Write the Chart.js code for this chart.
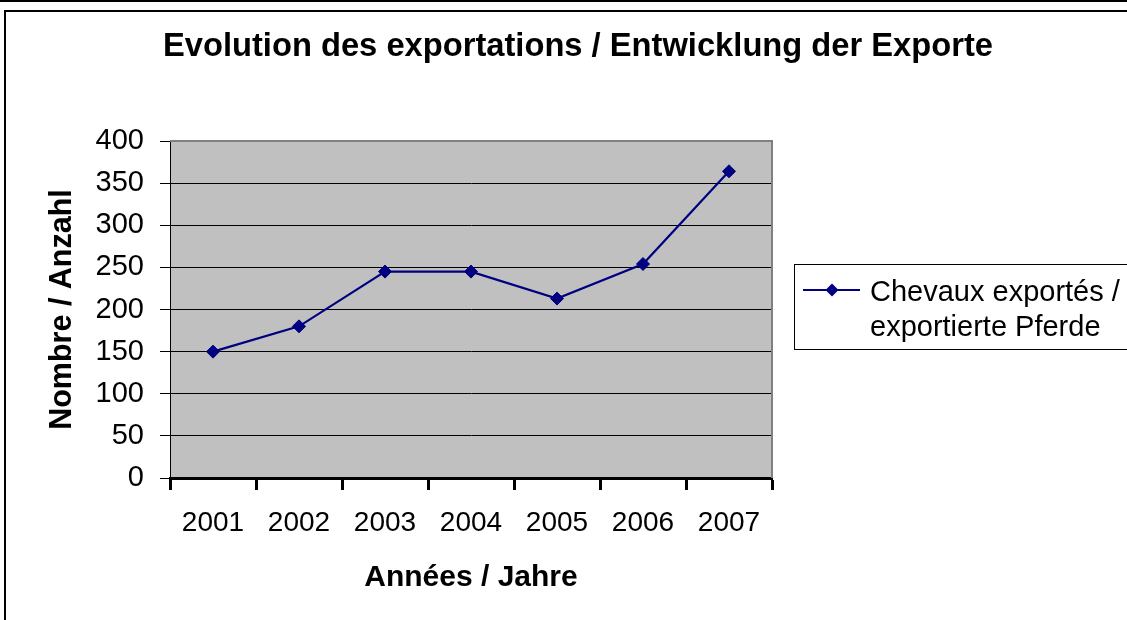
<!DOCTYPE html>
<html lang="fr">
<head>
    <meta charset="UTF-8">
    <title>Evolution des exportations / Entwicklung der Exporte</title>
    <script src="https://cdn.jsdelivr.net/npm/chart.js"></script>
    <style>
        body { margin: 0; background: #fff; }
        #exportChart { display: block; }
    </style>
</head>
<body>
    <canvas id="exportChart" width="1127" height="620"></canvas>

    <script>
        // data
        var years = ["2001", "2002", "2003", "2004", "2005", "2006", "2007"];
        var horses = [150, 180, 245, 245, 213, 254, 364];
        var yTicks = [0, 50, 100, 150, 200, 250, 300, 350, 400];

        var chartTitle = "Evolution des exportations / Entwicklung der Exporte";
        var seriesLabel = ["Chevaux exportés /", "exportierte Pferde"];
        var xTitle = "Années / Jahre";
        var yTitle = "Nombre / Anzahl";

        var font = "'Liberation Sans', Arial, sans-serif";

        // frame, grey plot area, title and legend box (like the excel sheet)
        var decor = {
            id: "decor",
            beforeDraw: function(chart) {
                var c = chart.ctx, a = chart.chartArea;
                c.save();
                c.fillStyle = "#fff";
                c.fillRect(0, 0, chart.width, chart.height);
                c.strokeStyle = "#000";
                c.lineWidth = 2;
                c.beginPath();
                c.moveTo(0, 1); c.lineTo(chart.width, 1);
                c.moveTo(5, chart.height + 5); c.lineTo(5, 11); c.lineTo(chart.width + 5, 11);
                c.stroke();
                c.fillStyle = "#c0c0c0";
                c.fillRect(a.left, a.top, a.right - a.left, a.bottom - a.top);
                c.restore();
            },
            afterDatasetsDraw: function(chart) {
                var c = chart.ctx, a = chart.chartArea;
                c.save();
                c.strokeStyle = "#808080";
                c.lineWidth = 2;
                c.beginPath();
                c.moveTo(a.left, a.top); c.lineTo(a.right, a.top); c.lineTo(a.right, a.bottom);
                c.stroke();
                c.restore();
            },
            afterDraw: function(chart) {
                var c = chart.ctx;
                var ds = chart.data.datasets[0];
                c.save();
                c.fillStyle = "#000";
                c.textAlign = "center";
                c.font = "bold 32.7px " + font;
                c.fillText(chartTitle, 578, 56);

                // legend
                c.strokeStyle = "#000";
                c.lineWidth = 1;
                c.strokeRect(794.5, 264.5, 400, 85);
                c.strokeStyle = ds.borderColor;
                c.lineWidth = 2;
                c.beginPath();
                c.moveTo(803, 290); c.lineTo(860, 290);
                c.stroke();
                c.fillStyle = ds.pointBackgroundColor;
                c.beginPath();
                c.moveTo(832, 283.5); c.lineTo(838.5, 290); c.lineTo(832, 296.5); c.lineTo(825.5, 290);
                c.closePath();
                c.fill();
                c.fillStyle = "#000";
                c.textAlign = "left";
                c.font = "29px " + font;
                c.fillText(ds.label[0], 870, 301);
                c.fillText(ds.label[1], 870, 336);
                c.restore();
            }
        };

        var ctx = document.getElementById("exportChart").getContext("2d");

        var chart = new Chart(ctx, {
            type: "line",
            data: {
                labels: years,
                datasets: [{
                    label: seriesLabel,
                    data: horses,
                    borderColor: "#000080",
                    borderWidth: 2.2,
                    pointStyle: "rectRot",
                    pointRadius: 6.5,
                    pointBackgroundColor: "#000080",
                    pointBorderColor: "#000080",
                    pointBorderWidth: 1,
                    tension: 0,
                    fill: false
                }]
            },
            options: {
                responsive: false,
                animation: false,
                layout: { padding: { top: 141, left: 40, right: 355, bottom: 22 } },
                plugins: {
                    legend: { display: false },
                    title: { display: false },
                    tooltip: { enabled: false }
                },
                scales: {
                    x: {
                        offset: true,
                        afterFit: function(s) { s.height = 120; },
                        grid: { offset: true, drawOnChartArea: false, tickLength: 12, tickWidth: 3, tickColor: "#000" },
                        border: { color: "#000", width: 3 },
                        ticks: { color: "#000", padding: 16, font: { family: font, size: 28 } },
                        title: { display: true, text: xTitle, color: "#000", padding: { top: 0, bottom: 2 },
                                 font: { family: font, size: 30, weight: "bold" } }
                    },
                    y: {
                        min: 0,
                        max: 400,
                        afterFit: function(s) { s.width = 130; },
                        afterBuildTicks: function(s) { s.ticks = yTicks.map(function(v) { return { value: v }; }); },
                        grid: { color: "#000", lineWidth: 1, tickLength: 10 },
                        border: { color: "#000", width: 1 },
                        ticks: { color: "#000", padding: 16, font: { family: font, size: 29 } },
                        title: { display: true, text: yTitle, color: "#000", padding: { top: 4, bottom: 0 },
                                 font: { family: font, size: 30.5, weight: "bold" } }
                    }
                }
            },
            plugins: [decor]
        });
    </script>
</body>
</html>
